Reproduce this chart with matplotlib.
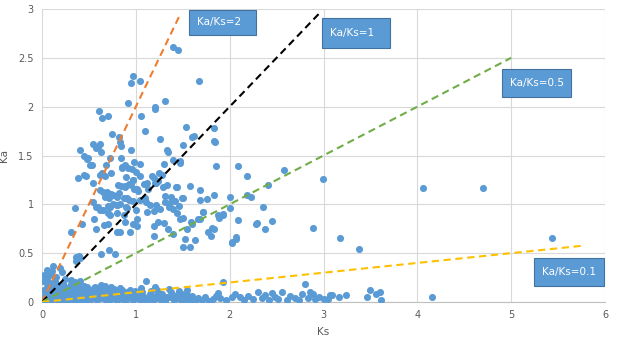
import matplotlib.pyplot as plt
from matplotlib.patches import Rectangle
from matplotlib.ticker import FormatStrFormatter

# Ka/Ks pairs
points_high = [
    (1.40, 2.61), (1.45, 2.58), (0.97, 2.31), (0.95, 2.24), (1.04, 2.26), (1.67, 2.26),
    (0.92, 2.04), (1.31, 2.06), (1.20, 2.00), (1.20, 1.98), (0.61, 1.96), (0.64, 1.88),
    (0.70, 1.90), (1.05, 1.90), (1.53, 1.79), (1.83, 1.78), (1.10, 1.75), (0.75, 1.72),
    (0.82, 1.69), (1.26, 1.67), (1.60, 1.69), (1.62, 1.70), (1.83, 1.65), (0.54, 1.62),
    (0.62, 1.62), (0.84, 1.60), (1.50, 1.61), (0.40, 1.56), (0.60, 1.59), (0.63, 1.54),
    (0.95, 1.56), (1.34, 1.54), (0.45, 1.49), (0.49, 1.47), (0.53, 1.40), (0.68, 1.40),
    (0.84, 1.47), (0.98, 1.43), (1.04, 1.41), (1.30, 1.41), (1.40, 1.45), (1.47, 1.42),
    (1.85, 1.39), (2.09, 1.39), (2.58, 1.35), (0.85, 1.38), (0.92, 1.37), (0.96, 1.36),
    (0.58, 1.58), (0.83, 1.64), (0.72, 1.47), (0.88, 1.40), (1.84, 1.64), (1.47, 1.44),
    (2.18, 1.29), (0.51, 1.40), (0.48, 1.46), (1.33, 1.56),
]

points_mid = [
    (0.38, 1.27), (0.47, 1.29), (0.62, 1.30), (0.35, 0.96), (0.31, 0.72), (0.43, 0.80),
    (0.36, 0.46), (0.38, 0.44), (0.41, 0.45), (0.36, 0.42), (0.39, 0.47), (0.55, 0.85),
    (0.58, 0.75), (0.63, 0.49), (0.71, 0.53), (0.78, 0.49), (0.65, 1.13), (0.67, 1.07),
    (0.71, 1.06), (0.76, 1.10), (0.82, 1.12), (0.84, 1.19), (0.88, 1.19), (0.95, 1.20),
    (1.01, 1.16), (0.97, 1.25), (1.09, 1.21), (1.13, 1.16), (1.19, 1.27), (1.24, 1.24),
    (1.28, 1.30), (1.33, 1.20), (1.44, 1.18), (1.50, 1.06), (1.58, 1.19), (1.68, 1.15),
    (1.68, 1.04), (1.76, 1.05), (1.83, 1.10), (2.00, 1.07), (2.19, 1.10), (2.23, 1.07),
    (2.41, 1.20), (2.36, 0.97), (2.28, 0.80), (2.38, 0.75), (2.45, 0.83), (2.09, 0.84),
    (2.07, 0.67), (2.02, 0.61), (1.88, 0.89), (1.93, 0.90), (1.83, 0.75), (1.77, 0.72),
    (1.80, 0.68), (1.68, 0.85), (1.72, 0.92), (1.54, 0.75), (1.60, 0.80), (1.52, 0.64),
    (1.50, 0.56), (1.58, 0.56), (1.63, 0.63), (1.50, 0.86), (1.40, 0.95), (1.44, 0.91),
    (1.34, 0.75), (1.40, 0.70), (1.24, 0.82), (1.30, 0.81), (1.19, 0.78), (1.19, 0.68),
    (1.12, 0.92), (1.11, 1.02), (1.15, 0.99), (1.22, 0.99), (1.26, 0.95), (1.31, 1.02),
    (1.35, 0.97), (1.38, 1.07), (1.31, 1.09), (1.01, 0.85), (0.97, 0.80), (1.01, 0.78),
    (0.94, 0.72), (0.80, 0.72), (0.83, 0.72), (0.88, 0.82), (0.87, 0.89), (0.80, 0.91),
    (0.73, 0.89), (0.66, 0.79), (0.70, 0.80), (0.62, 0.94), (0.58, 0.97), (0.76, 1.00),
    (0.80, 0.99), (0.83, 1.00), (0.90, 0.97), (0.97, 1.03), (0.91, 1.06), (0.73, 0.97),
    (0.70, 0.98), (0.45, 1.30), (0.54, 1.22), (0.64, 1.32), (0.67, 1.29), (0.74, 1.32),
    (0.85, 1.37), (0.90, 1.28), (0.97, 1.25), (1.00, 1.33), (1.04, 1.29), (1.12, 1.22),
    (1.21, 1.22), (0.62, 1.15), (0.69, 1.13), (0.74, 1.11), (0.81, 1.20), (0.88, 1.18),
    (0.93, 1.21), (0.98, 1.16), (1.02, 1.14), (0.80, 1.07), (0.87, 1.06), (0.93, 1.04),
    (1.04, 1.04), (1.10, 1.06), (0.60, 0.97), (0.65, 0.94), (0.70, 0.91), (0.54, 1.02),
    (0.80, 0.99), (0.91, 0.96), (1.00, 0.94), (1.19, 0.93), (1.25, 1.32), (1.17, 1.29),
    (1.20, 1.22), (1.29, 1.18), (1.43, 1.18), (1.49, 1.06), (1.72, 0.92), (1.59, 0.82),
    (1.66, 0.85), (1.47, 0.85), (1.93, 0.89), (1.89, 0.86), (2.29, 0.81), (1.81, 0.76),
    (2.00, 0.96), (2.03, 0.60), (2.07, 0.64), (1.36, 1.01), (1.42, 1.03), (1.46, 0.98),
    (2.89, 0.76), (3.18, 0.66), (3.38, 0.54), (2.99, 1.26), (4.06, 1.17), (4.70, 1.17),
    (5.43, 0.66),
]

points_low = [
    (0.01, 0.02), (0.02, 0.05), (0.03, 0.10), (0.04, 0.01), (0.05, 0.15), (0.06, 0.08),
    (0.07, 0.03), (0.08, 0.12), (0.09, 0.19), (0.10, 0.06), (0.11, 0.02), (0.12, 0.10),
    (0.13, 0.14), (0.14, 0.04), (0.15, 0.08), (0.16, 0.17), (0.17, 0.01), (0.18, 0.11),
    (0.19, 0.06), (0.20, 0.13), (0.21, 0.03), (0.22, 0.09), (0.23, 0.16), (0.24, 0.05),
    (0.25, 0.12), (0.26, 0.02), (0.27, 0.08), (0.28, 0.14), (0.29, 0.04), (0.30, 0.10),
    (0.31, 0.18), (0.32, 0.06), (0.33, 0.01), (0.34, 0.12), (0.35, 0.08), (0.36, 0.15),
    (0.37, 0.03), (0.38, 0.10), (0.39, 0.05), (0.40, 0.13), (0.41, 0.02), (0.42, 0.08),
    (0.43, 0.11), (0.44, 0.04), (0.45, 0.16), (0.46, 0.07), (0.47, 0.01), (0.48, 0.10),
    (0.49, 0.05), (0.50, 0.12), (0.52, 0.03), (0.53, 0.08), (0.55, 0.14), (0.56, 0.05),
    (0.58, 0.10), (0.59, 0.02), (0.61, 0.07), (0.62, 0.12), (0.64, 0.04), (0.65, 0.09),
    (0.67, 0.16), (0.68, 0.02), (0.70, 0.06), (0.72, 0.11), (0.73, 0.03), (0.75, 0.08),
    (0.77, 0.13), (0.78, 0.05), (0.80, 0.01), (0.82, 0.09), (0.84, 0.04), (0.85, 0.12),
    (0.87, 0.07), (0.89, 0.02), (0.91, 0.10), (0.93, 0.05), (0.95, 0.08), (0.97, 0.02),
    (0.99, 0.11), (1.01, 0.04), (1.03, 0.07), (1.05, 0.01), (1.07, 0.10), (1.09, 0.05),
    (1.11, 0.21), (1.13, 0.03), (1.15, 0.08), (1.18, 0.02), (1.20, 0.15), (1.22, 0.06),
    (1.23, 0.12), (1.26, 0.03), (1.28, 0.08), (1.31, 0.01), (1.33, 0.05), (1.36, 0.05),
    (1.38, 0.10), (1.41, 0.02), (1.44, 0.07), (1.47, 0.03), (1.49, 0.08), (1.52, 0.04),
    (1.54, 0.12), (1.57, 0.02), (1.60, 0.06), (1.63, 0.01), (1.66, 0.04), (1.70, 0.02),
    (1.74, 0.05), (1.78, 0.01), (1.82, 0.03), (1.85, 0.06), (1.88, 0.09), (1.90, 0.04),
    (1.93, 0.20), (1.96, 0.02), (2.03, 0.05), (2.06, 0.08), (2.11, 0.05), (2.15, 0.02),
    (2.20, 0.06), (2.25, 0.03), (2.30, 0.10), (2.34, 0.04), (2.38, 0.07), (2.42, 0.02),
    (2.45, 0.09), (2.48, 0.05), (2.52, 0.03), (2.56, 0.10), (2.61, 0.02), (2.64, 0.06),
    (2.70, 0.04), (2.74, 0.02), (2.77, 0.08), (2.80, 0.18), (2.83, 0.04), (2.86, 0.10),
    (2.89, 0.08), (2.91, 0.03), (2.95, 0.05), (3.00, 0.03), (3.05, 0.03), (3.07, 0.07),
    (3.09, 0.07), (3.17, 0.05), (3.24, 0.07), (3.46, 0.05), (3.50, 0.12), (3.56, 0.08),
    (3.60, 0.10), (3.61, 0.02), (4.16, 0.05),
    (0.02, 0.12), (0.04, 0.20), (0.06, 0.00), (0.08, 0.06), (0.10, 0.14), (0.12, 0.04),
    (0.14, 0.22), (0.16, 0.09), (0.18, 0.02), (0.20, 0.07), (0.22, 0.18), (0.24, 0.11),
    (0.26, 0.06), (0.28, 0.01), (0.30, 0.15), (0.32, 0.12), (0.34, 0.04), (0.36, 0.09),
    (0.38, 0.17), (0.40, 0.07), (0.42, 0.14), (0.44, 0.10), (0.46, 0.03), (0.48, 0.15),
    (0.50, 0.07), (0.54, 0.11), (0.57, 0.15), (0.60, 0.05), (0.63, 0.17), (0.66, 0.07),
    (0.69, 0.12), (0.71, 0.01), (0.74, 0.15), (0.76, 0.04), (0.79, 0.10), (0.83, 0.14),
    (0.86, 0.03), (0.90, 0.06), (0.94, 0.12), (0.98, 0.05), (1.02, 0.09), (1.06, 0.14),
    (1.10, 0.03), (1.16, 0.11), (1.21, 0.04), (1.25, 0.09), (1.30, 0.05), (1.35, 0.13),
    (1.40, 0.06), (1.46, 0.11), (1.50, 0.02), (1.55, 0.07),
    (0.12, 0.37), (0.11, 0.32), (0.21, 0.31), (0.05, 0.25), (0.08, 0.28), (0.31, 0.23),
    (0.02, 0.28), (0.01, 0.22), (0.19, 0.35), (0.15, 0.26), (0.25, 0.24), (0.35, 0.20),
    (0.40, 0.22), (0.05, 0.33),
]

ratios = [2, 1, 0.5, 0.1]
ratio_end_ks = [1.47, 2.97, 5.0, 5.76]
ratio_colors = ['#ed7d31', '#000000', '#70ad47', '#ffc000']
ratio_labels = ['Ka/Ks=2', 'Ka/Ks=1', 'Ka/Ks=0.5', 'Ka/Ks=0.1']

all_points = points_high + points_mid + points_low
ks = [p[0] for p in all_points]
ka = [p[1] for p in all_points]

fig = plt.figure(figsize=(6.17, 3.44), dpi=100)
ax = fig.add_axes([42 / 617, 42 / 344, 563 / 617, 293 / 344])

ax.scatter(ks, ka, s=26, color='#5b9bd5', linewidths=0, zorder=3)

for r, xe, c in zip(ratios, ratio_end_ks, ratio_colors):
    ax.plot([0, xe], [0, r * xe], color=c, lw=1.5, ls=(0, (3.5, 2.2)), zorder=4)

ax.set_xlim(0, 6)
ax.set_ylim(0, 3)
ax.set_xticks(range(0, 7))
ax.set_yticks([0, 0.5, 1, 1.5, 2, 2.5, 3])
ax.yaxis.set_major_formatter(FormatStrFormatter('%g'))
ax.grid(color='#d9d9d9', lw=0.8, zorder=0)
ax.set_axisbelow(True)
for side in ['left', 'top', 'right']:
    ax.spines[side].set_visible(False)
ax.spines['bottom'].set_color('#bfbfbf')
ax.tick_params(length=0, labelsize=7, labelcolor='#595959', pad=6)
ax.set_xlabel('Ks', fontsize=7.5, color='#595959', labelpad=5)
ax.set_ylabel('Ka', fontsize=7.5, color='#595959')
ax.yaxis.set_label_coords(-0.058, 0.5)

# label boxes, pixel positions (left, top, right, bottom)
boxes = [(189, 10, 256, 35), (322, 18, 390, 48), (502, 69, 571, 97), (534, 258, 604, 286)]
for (l, t, r, b), lab in zip(boxes, ratio_labels):
    fig.patches.append(Rectangle((l / 617, 1 - b / 344), (r - l) / 617, (b - t) / 344,
                                 transform=fig.transFigure, facecolor='#5b9bd5',
                                 edgecolor='#41719c', lw=0.8, zorder=5))
    fig.text((l + 8) / 617, 1 - (t + b) / 2 / 344, lab, color='white', fontsize=7.5,
             va='center', ha='left', zorder=6)

fig.savefig('out.png', dpi=100)
